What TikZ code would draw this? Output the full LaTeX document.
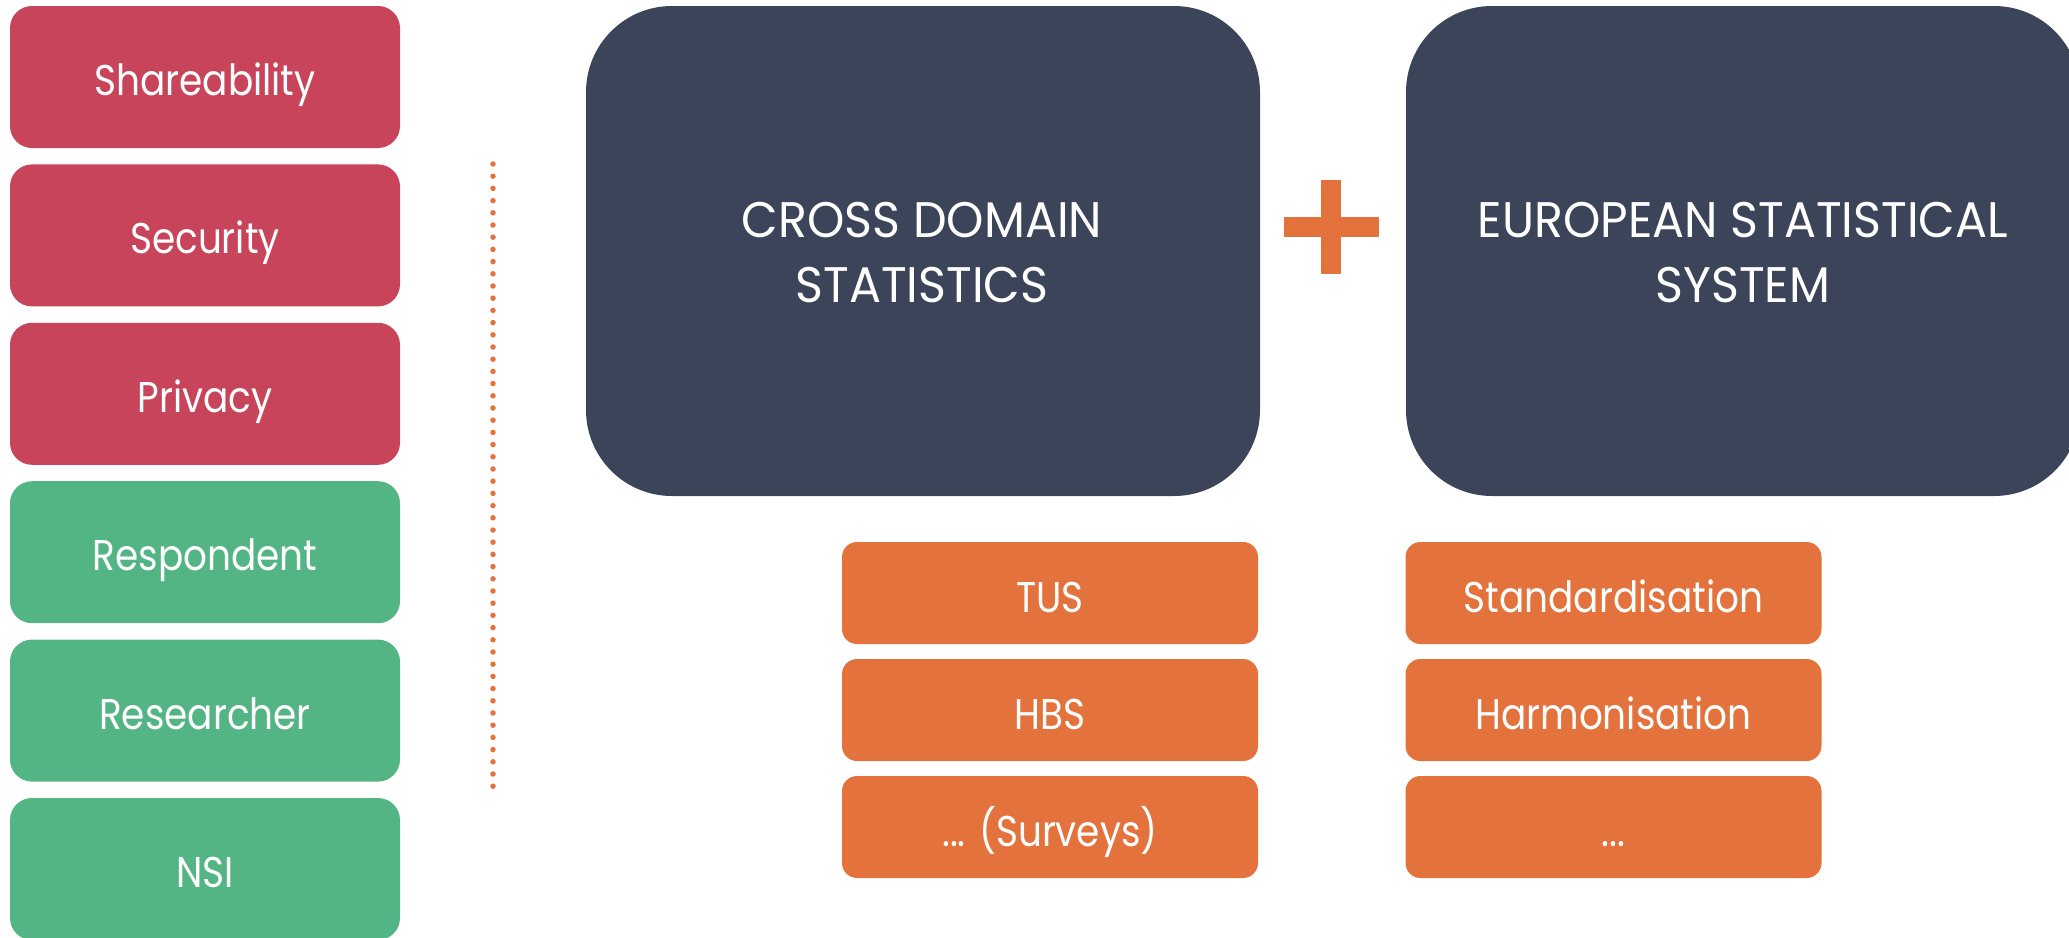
\documentclass[tikz,border=0pt]{standalone}
\usepackage{fontspec}
\setmainfont{Poppins}[FakeStretch=0.87]
\newfontfamily\bigfont{Poppins}[FakeStretch=0.95]
\definecolor{redc}{HTML}{C8445A}
\definecolor{greenc}{HTML}{54B584}
\definecolor{darkc}{HTML}{3C4459}
\definecolor{orangec}{HTML}{E4723C}
\tikzset{
  sidebox/.style={rectangle, rounded corners=22pt, minimum width=390pt, minimum height=142pt,
    inner sep=0pt, text=white, font=\fontsize{43}{50}\selectfont, text height=37pt, text depth=0pt},
  redbox/.style={sidebox, fill=redc},
  greenbox/.style={sidebox, fill=greenc},
  bigbox/.style={rectangle, rounded corners=86pt, fill=darkc, minimum width=674pt, minimum height=490pt, inner sep=0pt},
  bigtext/.style={text=white, font=\bigfont\fontsize{50}{58}\selectfont, anchor=base, inner sep=0pt},
  smallbox/.style={rectangle, rounded corners=15pt, fill=orangec, minimum width=416pt, minimum height=102pt,
    inner sep=0pt, text=white, font=\fontsize{43}{50}\selectfont, text height=38pt, text depth=0pt},
  dotline/.style={draw=orangec, line width=5.5pt, line cap=round, dash pattern=on 0pt off 12.2pt}
}
\begin{document}
\begin{tikzpicture}[x=1pt,y=-1pt]
\useasboundingbox (0,0) rectangle (2069,937);
% left column
\node[redbox]   (share) at (205,77)    {Shareability};
\node[redbox]   (secu)  at (205,235.4) {Security};
\node[redbox]   (priv)  at (205,393.8) {Privacy};
\node[greenbox] (resp)  at (205,552.2) {Respondent};
\node[greenbox] (rese)  at (205,710.6) {Researcher};
\node[greenbox] (nsi)   at (205,869)   {NSI};
% dotted separator
\coordinate (dtop) at (493,164);
\coordinate (dbot) at (493,790);
\draw[dotline] (dtop) -- (dbot);
% big boxes
\node[bigbox] (cds) at (923,251) {};
\node[bigbox] (ess) at (1743,251) {};
\node[bigtext] (cds1) at (922,237) {CROSS DOMAIN};
\node[bigtext] (cds2) at (922,302) {STATISTICS};
\node[bigtext] (ess1) at (1743,237) {EUROPEAN STATISTICAL};
\node[bigtext] (ess2) at (1743,302) {SYSTEM};
% plus sign
\fill[orangec] (1284,217) rectangle (1379,237);
\fill[orangec] (1321,180) rectangle (1341,274);
% orange boxes
\node[smallbox] (tus)  at (1050,593) {TUS};
\node[smallbox] (hbs)  at (1050,710) {HBS};
\node[smallbox] (surv) at (1050,827) {... (Surveys)};
\node[smallbox] (std)  at (1613.5,593) {Standardisation};
\node[smallbox] (harm) at (1613.5,710) {Harmonisation};
\node[smallbox] (etc)  at (1613.5,827) {...};
\end{tikzpicture}
\end{document}
